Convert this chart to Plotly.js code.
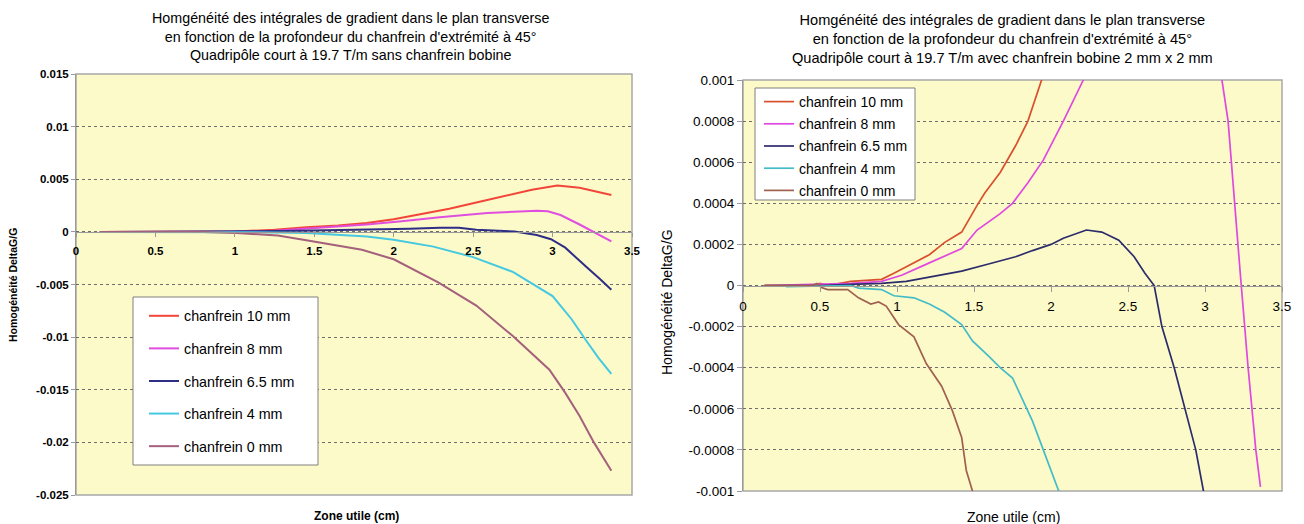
<!DOCTYPE html>
<html>
<head>
<meta charset="utf-8">
<script src="https://cdn.plot.ly/plotly-3.0.1.min.js"></script>
<style>
  html, body { margin: 0; padding: 0; background: #ffffff; }
  #chart { width: 1304px; height: 524px; }
</style>
</head>
<body>
<div id="chart"></div>
<script>
// ---- Left panel: sans chanfrein bobine ----
const seriesNames = ["chanfrein 10 mm", "chanfrein 8 mm", "chanfrein 6.5 mm", "chanfrein 4 mm", "chanfrein 0 mm"];

const leftX10 = [0.15, 0.5, 1.0, 1.25, 1.45, 1.65, 1.83, 2.0, 2.17, 2.35, 2.52, 2.7, 2.87, 3.03, 3.17, 3.37];
const leftY10 = [0, 0, 0.00003, 0.0002, 0.00044, 0.0006, 0.00085, 0.0012, 0.0017, 0.0022, 0.0028, 0.0034, 0.004, 0.0044, 0.0042, 0.0035];

const leftX8 = [0.15, 0.5, 1.0, 1.25, 1.45, 1.83, 2.05, 2.29, 2.59, 2.9, 2.97, 3.05, 3.17, 3.27, 3.37];
const leftY8 = [0, 0, 0.00002, 0.0001, 0.0003, 0.0007, 0.001, 0.0014, 0.0018, 0.002, 0.00195, 0.0016, 0.0007, -0.0001, -0.0009];

const leftX65 = [0.15, 1.0, 1.06, 1.4, 1.83, 2.1, 2.29, 2.41, 2.52, 2.65, 2.76, 2.9, 2.99, 3.08, 3.15, 3.21, 3.3, 3.37];
const leftY65 = [0, 0, 0.00006, 0.0001, 0.0002, 0.0003, 0.0004, 0.0004, 0.0002, 0.0001, 0.00003, -0.0003, -0.0007, -0.0015, -0.0025, -0.0033, -0.0045, -0.0055];

const leftX4 = [0.15, 1.0, 1.25, 1.45, 1.65, 1.83, 2.0, 2.25, 2.5, 2.75, 3.0, 3.12, 3.21, 3.29, 3.37];
const leftY4 = [0, 0, -0.00005, -0.0001, -0.00025, -0.00044, -0.00075, -0.0014, -0.0024, -0.0038, -0.0061, -0.0083, -0.0103, -0.012, -0.0135];

const leftX0 = [0.15, 0.8, 1.01, 1.27, 1.45, 1.63, 1.8, 2.0, 2.28, 2.52, 2.75, 2.98, 3.08, 3.17, 3.26, 3.37];
const leftY0 = [0, 0, -0.0001, -0.00035, -0.0008, -0.0013, -0.0017, -0.0026, -0.0048, -0.007, -0.0099, -0.0131, -0.0153, -0.0175, -0.02, -0.0227];

const leftYTicks = [0.015, 0.01, 0.005, 0, -0.005, -0.01, -0.015, -0.02, -0.025];
const leftYLabels = ["0.015", "0.01", "0.005", "0", "-0.005", "-0.01", "-0.015", "-0.02", "-0.025"];

// ---- Right panel: avec chanfrein bobine 2 mm x 2 mm ----
const rightX10 = [0.14, 0.45, 0.5, 0.55, 0.7, 0.9, 0.98, 1.11, 1.21, 1.31, 1.42, 1.52, 1.57, 1.67, 1.77, 1.85, 1.94, 2.05, 2.3, 2.6, 2.9, 3.1, 3.37];
const rightY10 = [0, 0, 0.00001, 0, 0.00002, 0.00003, 0.00006, 0.00011, 0.00015, 0.00021, 0.00026, 0.00039, 0.00045, 0.00055, 0.00068, 0.0008, 0.001, 0.00125, 0.0019, 0.0027, 0.0035, 0.004, 0.0038];

const rightX8 = [0.14, 0.7, 0.9, 1.03, 1.21, 1.42, 1.52, 1.67, 1.75, 1.85, 1.95, 2.08, 2.21, 2.4, 2.6, 2.8, 2.9, 3.0, 3.05, 3.11, 3.15, 3.23, 3.28, 3.33, 3.36];
const rightY8 = [0, 0.00001, 0.00002, 0.00005, 0.00011, 0.00018, 0.00027, 0.00035, 0.0004, 0.0005, 0.00061, 0.0008, 0.001, 0.00128, 0.00152, 0.00165, 0.00162, 0.00145, 0.0013, 0.001, 0.0008, 0.00005, -0.0004, -0.0008, -0.00098];

const rightX65 = [0.14, 0.5, 0.7, 0.9, 1.06, 1.21, 1.42, 1.57, 1.77, 1.88, 2.0, 2.08, 2.15, 2.23, 2.33, 2.44, 2.54, 2.61, 2.67, 2.72, 2.8, 2.87, 2.94, 2.99, 3.05, 3.2, 3.37];
const rightY65 = [0, 0, 0.000005, 0.00001, 0.00002, 0.00004, 0.00007, 0.0001, 0.00014, 0.00017, 0.0002, 0.00023, 0.00025, 0.00027, 0.00026, 0.00022, 0.00014, 0.00006, 0, -0.0002, -0.0004, -0.0006, -0.0008, -0.001, -0.0013, -0.0025, -0.0045];

const rightX4 = [0.28, 0.7, 0.75, 0.9, 0.98, 1.11, 1.21, 1.31, 1.42, 1.49, 1.59, 1.67, 1.75, 1.82, 1.88, 1.95, 2.0, 2.05, 2.2, 2.5];
const rightY4 = [-0.000005, 0, -0.000013, -0.00002, -0.00005, -0.00006, -0.00009, -0.00013, -0.00019, -0.00027, -0.00034, -0.0004, -0.00045, -0.00056, -0.00066, -0.0008, -0.0009, -0.001, -0.0014, -0.0025];

const rightX0 = [0.14, 0.45, 0.48, 0.51, 0.55, 0.68, 0.75, 0.83, 0.88, 0.93, 1.01, 1.11, 1.19, 1.29, 1.36, 1.42, 1.45, 1.49, 1.6];
const rightY0 = [0, 0, 0.00001, -0.00001, -0.00002, -0.00002, -0.00006, -0.00009, -0.00008, -0.0001, -0.00019, -0.00025, -0.00038, -0.00049, -0.00061, -0.00074, -0.0009, -0.001, -0.0014];

const rightYTicks = [0.001, 0.0008, 0.0006, 0.0004, 0.0002, 0, -0.0002, -0.0004, -0.0006, -0.0008, -0.001];
const rightYLabels = ["0.001", "0.0008", "0.0006", "0.0004", "0.0002", "0", "-0.0002", "-0.0004", "-0.0006", "-0.0008", "-0.001"];

const xTicks = [0, 0.5, 1, 1.5, 2, 2.5, 3, 3.5];
const xLabels = ["0", "0.5", "1", "1.5", "2", "2.5", "3", "3.5"];

const titleLeft = "Homgénéité des intégrales de gradient dans le plan transverse<br>en fonction de la profondeur du chanfrein d'extrémité à 45°<br>Quadripôle court à 19.7 T/m sans chanfrein bobine";
const titleRight = "Homgénéité des intégrales de gradient dans le plan transverse<br>en fonction de la profondeur du chanfrein d'extrémité à 45°<br>Quadripôle court à 19.7 T/m avec chanfrein bobine 2 mm x 2 mm";
const yTitle = "Homogénéité DeltaG/G";
const xTitle = "Zone utile (cm)";

const FONT = "Liberation Sans, Arial, sans-serif";
const W = 1304, H = 524;

// plot-area boxes in pixels
const L = { x0: 76, x1: 632, y0: 74, y1: 495 };
const R = { x0: 743, x1: 1282, y0: 80, y1: 491 };
const px = v => v / W;
const py = v => 1 - v / H;

const leftColors = ["#f2463a", "#e04ee0", "#2e2e86", "#45c8e2", "#a4607c"];
const rightColors = ["#d8502e", "#e048e0", "#2c2c6c", "#44bcc8", "#a06050"];

const leftData = [[leftX10, leftY10], [leftX8, leftY8], [leftX65, leftY65], [leftX4, leftY4], [leftX0, leftY0]];
const rightData = [[rightX10, rightY10], [rightX8, rightY8], [rightX65, rightY65], [rightX4, rightY4], [rightX0, rightY0]];

const traces = [];
leftData.forEach((d, i) => traces.push({
  type: "scatter", mode: "lines", x: d[0], y: d[1], name: seriesNames[i],
  line: { color: leftColors[i], width: 2 }, xaxis: "x", yaxis: "y",
  legend: "legend", legendgroup: "l" + i
}));
rightData.forEach((d, i) => traces.push({
  type: "scatter", mode: "lines", x: d[0], y: d[1], name: seriesNames[i],
  line: { color: rightColors[i], width: 1.7 }, xaxis: "x2", yaxis: "y2",
  legend: "legend2", legendgroup: "r" + i
}));

const yDomL = [py(L.y1), py(L.y0)];
const yDomR = [py(R.y1), py(R.y0)];
const yRangeL = [-0.025, 0.015];
const yRangeR = [-0.001, 0.001];
// x axes cross the value axis at zero
const zeroPosL = yDomL[0] + (0 - yRangeL[0]) / (yRangeL[1] - yRangeL[0]) * (yDomL[1] - yDomL[0]);
const zeroPosR = yDomR[0] + (0 - yRangeR[0]) / (yRangeR[1] - yRangeR[0]) * (yDomR[1] - yDomR[0]);

const axisGray = "#9a9a9a";
const gridCommon = { showgrid: true, gridcolor: "#6e6e6e", griddash: "dot", gridwidth: 1 };

const layout = {
  width: W, height: H,
  margin: { l: 0, r: 0, t: 0, b: 0 },
  paper_bgcolor: "#ffffff",
  plot_bgcolor: "#fcfac8",
  font: { family: FONT, color: "#000000" },
  showlegend: true,
  xaxis: {
    domain: [px(L.x0), px(L.x1)], range: [0, 3.5], anchor: "free", position: zeroPosL,
    tickvals: xTicks, ticktext: xLabels, ticks: "outside", ticklen: 4, tickcolor: axisGray,
    ticklabelstandoff: 4,
    showline: true, linecolor: axisGray, linewidth: 1.5, showgrid: false, zeroline: false,
    tickfont: { family: FONT, size: 11.5, weight: "bold" }, fixedrange: true
  },
  yaxis: Object.assign({
    domain: yDomL, range: yRangeL, anchor: "x",
    tickvals: leftYTicks, ticktext: leftYLabels, ticks: "outside", ticklen: 4, tickcolor: axisGray,
    showline: true, linecolor: axisGray, linewidth: 1, zeroline: false,
    tickfont: { family: FONT, size: 11.5, weight: "bold" }, fixedrange: true
  }, gridCommon),
  xaxis2: {
    domain: [px(R.x0), px(R.x1)], range: [0, 3.5], anchor: "free", position: zeroPosR,
    tickvals: xTicks, ticktext: xLabels, ticks: "outside", ticklen: 5, tickcolor: axisGray,
    ticklabelstandoff: 3,
    showline: true, linecolor: axisGray, linewidth: 1.5, showgrid: false, zeroline: false,
    tickfont: { family: FONT, size: 13.5 }, fixedrange: true
  },
  yaxis2: Object.assign({
    domain: yDomR, range: yRangeR, anchor: "x2",
    tickvals: rightYTicks, ticktext: rightYLabels, ticks: "outside", ticklen: 5, tickcolor: axisGray,
    showline: true, linecolor: axisGray, linewidth: 1, zeroline: false,
    tickfont: { family: FONT, size: 13.5 }, fixedrange: true
  }, gridCommon),
  legend: {
    x: px(144), y: py(300), xanchor: "left", yanchor: "top",
    bgcolor: "rgba(0,0,0,0)", borderwidth: 0, traceorder: "grouped", tracegroupgap: 11,
    font: { family: FONT, size: 14.3 }, itemclick: false
  },
  legend2: {
    x: px(759), y: py(86), xanchor: "left", yanchor: "top",
    bgcolor: "rgba(0,0,0,0)", borderwidth: 0, traceorder: "grouped", tracegroupgap: 1,
    font: { family: FONT, size: 14 }, itemclick: false
  },
  shapes: [
    // plot-area frames (under the grid, so tick labels stay on top)
    { type: "rect", xref: "x domain", yref: "y domain", x0: 0, x1: 1, y0: 0, y1: 1,
      line: { color: "#a8a8a8", width: 1.5 }, layer: "below" },
    { type: "rect", xref: "x2 domain", yref: "y2 domain", x0: 0, x1: 1, y0: 0, y1: 1,
      line: { color: "#a8a8a8", width: 1.5 }, layer: "below" },
    // legend boxes
    { type: "rect", xref: "paper", yref: "paper", x0: px(133), x1: px(318), y0: py(465), y1: py(297),
      line: { color: "#808080", width: 1 }, fillcolor: "#ffffff", layer: "above" },
    { type: "rect", xref: "paper", yref: "paper", x0: px(755), x1: px(915), y0: py(200), y1: py(88),
      line: { color: "#808080", width: 1 }, fillcolor: "#ffffff", layer: "above" }
  ],
  annotations: [
    { text: titleLeft, xref: "paper", yref: "paper", x: px(350), y: py(36), xanchor: "center", yanchor: "middle",
      showarrow: false, font: { family: FONT, size: 14.3 } },
    { text: titleRight, xref: "paper", yref: "paper", x: px(1002), y: py(38.5), xanchor: "center", yanchor: "middle",
      showarrow: false, font: { family: FONT, size: 14.6 } },
    { text: yTitle, xref: "paper", yref: "paper", x: px(13), y: py(285), xanchor: "center", yanchor: "middle",
      textangle: -90, showarrow: false, font: { family: FONT, size: 10.5, weight: "bold" } },
    { text: yTitle, xref: "paper", yref: "paper", x: px(667), y: py(302), xanchor: "center", yanchor: "middle",
      textangle: -90, showarrow: false, font: { family: FONT, size: 14 } },
    { text: xTitle, xref: "paper", yref: "paper", x: px(357), y: py(516), xanchor: "center", yanchor: "middle",
      showarrow: false, font: { family: FONT, size: 12, weight: "bold" } },
    { text: xTitle, xref: "paper", yref: "paper", x: px(1013), y: py(517), xanchor: "center", yanchor: "middle",
      showarrow: false, font: { family: FONT, size: 14 } }
  ]
};

Plotly.newPlot("chart", traces, layout, { staticPlot: true, displayModeBar: false });
</script>
</body>
</html>
